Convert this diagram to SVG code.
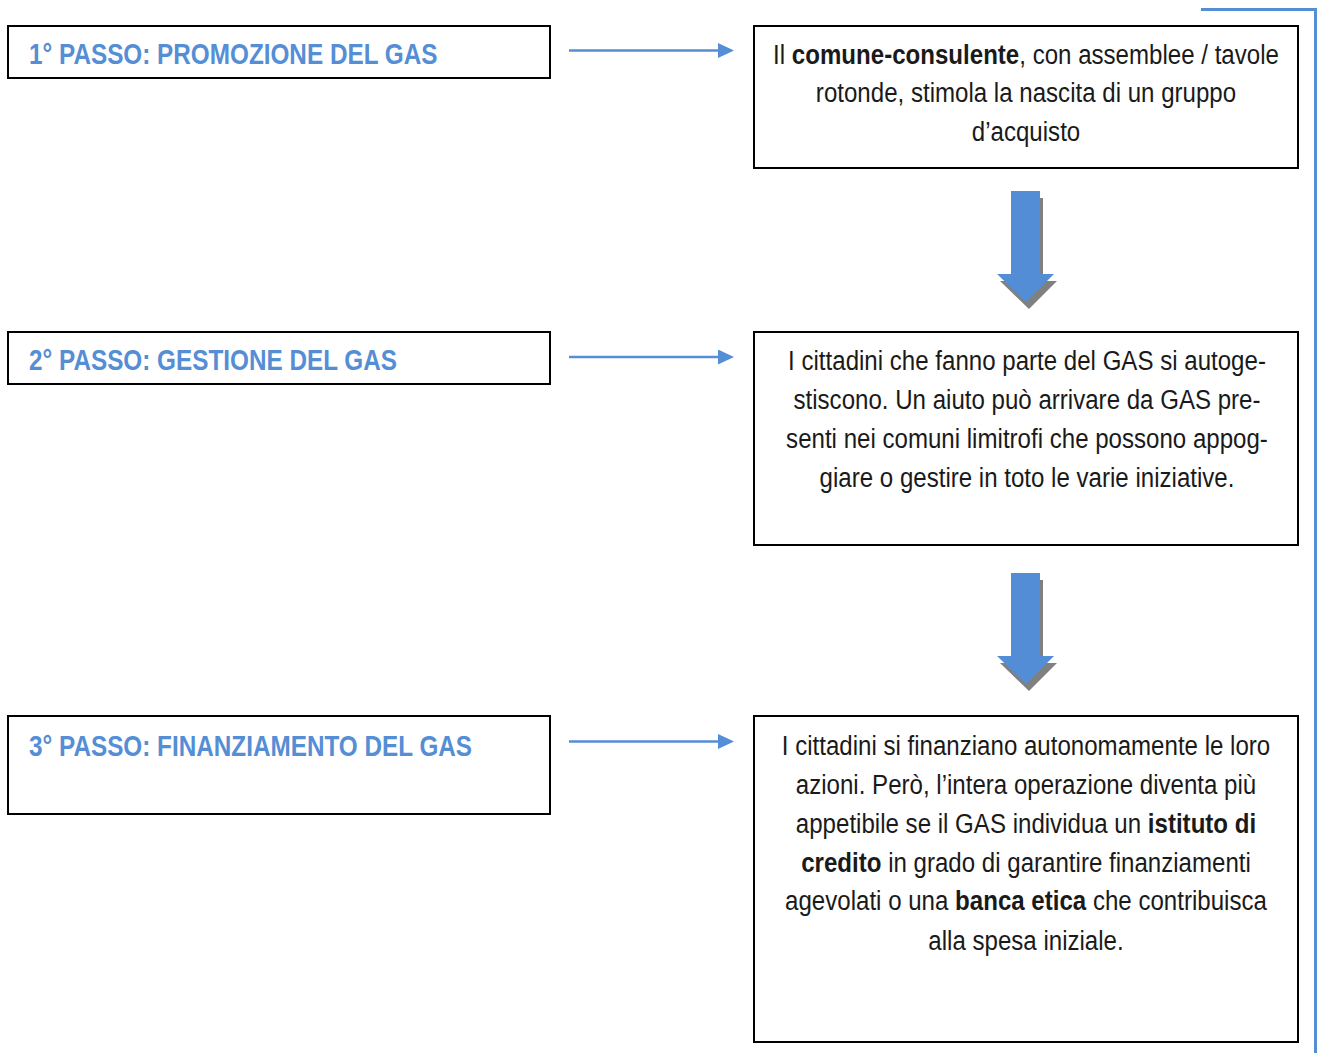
<svg xmlns="http://www.w3.org/2000/svg" width="1318" height="1053" viewBox="0 0 1318 1053">
  <style>
    .box { fill: #ffffff; stroke: #000000; stroke-width: 2; }
    .title { font-family: "Liberation Sans Narrow", "Liberation Sans", Arial, sans-serif; font-weight: bold; font-size: 29px; fill: #558ED5; }
    .body { font-family: "Liberation Sans Narrow", "Liberation Sans", Arial, sans-serif; font-size: 28px; fill: #1a1a1a; text-anchor: middle; }
    .b { font-weight: bold; }
    .link { stroke: #558ED5; stroke-width: 2.5; fill: none; }
    .down { fill: #538DD5; }
    .shadow { fill: #808080; }
  </style>
  <defs>
    <marker id="head" markerUnits="userSpaceOnUse" markerWidth="16" markerHeight="16" refX="1" refY="7.5" orient="auto">
      <polygon points="0,0 16,7.5 0,15" fill="#558ED5"/>
    </marker>
    <polygon id="bigArrow" points="1011,0 1040,0 1040,83 1054,83 1026,111 997,83 1011,83"/>
  </defs>
  <rect width="1318" height="1053" fill="#ffffff"/>

  <!-- frame line on the right edge -->
  <polyline points="1201,9.5 1315.5,9.5 1315.5,1053" fill="none" stroke="#558ED5" stroke-width="3"/>

  <!-- step labels (condensed lettering) -->
  <g id="step1">
    <rect class="box" x="8" y="26" width="542" height="52"/>
    <g transform="translate(29 0) scale(0.838 1)">
      <text class="title" x="0" y="64">1° PASSO: PROMOZIONE DEL GAS</text>
    </g>
  </g>
  <g id="step2">
    <rect class="box" x="8" y="332" width="542" height="52"/>
    <g transform="translate(29 0) scale(0.838 1)">
      <text class="title" x="0" y="370">2° PASSO: GESTIONE DEL GAS</text>
    </g>
  </g>
  <g id="step3">
    <rect class="box" x="8" y="716" width="542" height="98"/>
    <g transform="translate(29 0) scale(0.838 1)">
      <text class="title" x="0" y="756">3° PASSO: FINANZIAMENTO DEL GAS</text>
    </g>
  </g>

  <!-- descriptions (condensed lettering, centred on x = 1026) -->
  <g id="desc1">
    <rect class="box" x="754" y="26" width="544" height="142"/>
    <g transform="translate(1026 0) scale(0.86 1)">
      <text class="body" x="0" y="64">Il <tspan class="b">comune-consulente</tspan>, con assemblee / tavole</text>
      <text class="body" x="0" y="102">rotonde, stimola la nascita di un gruppo</text>
      <text class="body" x="0" y="141">d’acquisto</text>
    </g>
  </g>
  <g id="desc2">
    <rect class="box" x="754" y="332" width="544" height="213"/>
    <g transform="translate(1027 0) scale(0.86 1)">
      <text class="body" x="0" y="370">I cittadini che fanno parte del GAS si autoge-</text>
      <text class="body" x="0" y="409">stiscono. Un aiuto può arrivare da GAS pre-</text>
      <text class="body" x="0" y="448">senti nei comuni limitrofi che possono appog-</text>
      <text class="body" x="0" y="487">giare o gestire in toto le varie iniziative.</text>
    </g>
  </g>
  <g id="desc3">
    <rect class="box" x="754" y="716" width="544" height="326"/>
    <g transform="translate(1026 0) scale(0.86 1)">
      <text class="body" x="0" y="755">I cittadini si finanziano autonomamente le loro</text>
      <text class="body" x="0" y="794">azioni. Però, l’intera operazione diventa più</text>
      <text class="body" x="0" y="833">appetibile se il GAS individua un <tspan class="b">istituto di</tspan></text>
      <text class="body" x="0" y="872"><tspan class="b">credito</tspan> in grado di garantire finanziamenti</text>
      <text class="body" x="0" y="910">agevolati o una <tspan class="b">banca etica</tspan> che contribuisca</text>
      <text class="body" x="0" y="950">alla spesa iniziale.</text>
    </g>
  </g>

  <!-- connectors -->
  <g id="connectors">
    <line class="link" x1="569" y1="50.5" x2="719" y2="50.5" marker-end="url(#head)"/>
    <line class="link" x1="569" y1="357" x2="719" y2="357" marker-end="url(#head)"/>
    <line class="link" x1="569" y1="741.5" x2="719" y2="741.5" marker-end="url(#head)"/>

    <use href="#bigArrow" class="shadow" transform="translate(3,198)"/>
    <use href="#bigArrow" class="down" transform="translate(0,191)"/>
    <use href="#bigArrow" class="shadow" transform="translate(3,580)"/>
    <use href="#bigArrow" class="down" transform="translate(0,573)"/>
  </g>
</svg>
